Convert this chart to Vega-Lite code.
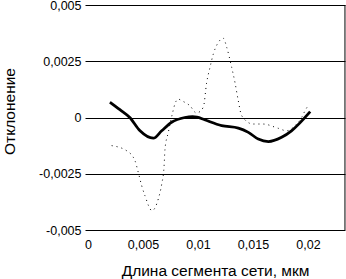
{
  "$schema": "https://vega.github.io/schema/vega-lite/v6.json",
  "width": 260,
  "height": 225,
  "autosize": "none",
  "padding": {"left": 85, "top": 5, "right": 1, "bottom": 49},
  "background": "white",
  "config": {
    "view": {"stroke": null},
    "font": "Liberation Sans",
    "axis": {"labelFont": "Liberation Sans", "titleFont": "Liberation Sans", "labelColor": "black", "titleColor": "black", "labelFontSize": 12.5, "titleFontSize": 15.5, "titleFontWeight": "normal"}
  },
  "datasets": {
    "thick": [
      {"x": 0.0020, "y": 0.00068},
      {"x": 0.0029, "y": 0.00035},
      {"x": 0.0038, "y": 0.0},
      {"x": 0.00473, "y": -0.00059},
      {"x": 0.00594, "y": -0.00092},
      {"x": 0.0067, "y": -0.00059},
      {"x": 0.0076, "y": -0.00021},
      {"x": 0.0088, "y": 0.0},
      {"x": 0.0095, "y": 0.00004},
      {"x": 0.0099, "y": 0.00002},
      {"x": 0.0106, "y": -0.0001},
      {"x": 0.01215, "y": -0.00036},
      {"x": 0.01367, "y": -0.00047},
      {"x": 0.01458, "y": -0.00066},
      {"x": 0.01548, "y": -0.00096},
      {"x": 0.0164, "y": -0.00107},
      {"x": 0.0176, "y": -0.00088},
      {"x": 0.0185, "y": -0.00059},
      {"x": 0.0202, "y": 0.00026}
    ],
    "dotted": [
      {"x": 0.00215, "y": -0.00125},
      {"x": 0.00352, "y": -0.00148},
      {"x": 0.00427, "y": -0.00192},
      {"x": 0.00457, "y": -0.00244},
      {"x": 0.00488, "y": -0.00303},
      {"x": 0.00518, "y": -0.00348},
      {"x": 0.00582, "y": -0.00414},
      {"x": 0.00639, "y": -0.00362},
      {"x": 0.0067, "y": -0.00296},
      {"x": 0.00691, "y": -0.00221},
      {"x": 0.0070, "y": -0.0014},
      {"x": 0.0073, "y": -0.00066},
      {"x": 0.0077, "y": 0.00023},
      {"x": 0.0079, "y": 0.0006},
      {"x": 0.0082, "y": 0.00082},
      {"x": 0.0085, "y": 0.00075},
      {"x": 0.00927, "y": 0.00052},
      {"x": 0.00986, "y": 0.0002},
      {"x": 0.01048, "y": 0.00045},
      {"x": 0.01079, "y": 0.00156},
      {"x": 0.01109, "y": 0.00223},
      {"x": 0.01139, "y": 0.00282},
      {"x": 0.01185, "y": 0.00334},
      {"x": 0.0123, "y": 0.00352},
      {"x": 0.01261, "y": 0.00312},
      {"x": 0.01306, "y": 0.00223},
      {"x": 0.01336, "y": 0.00156},
      {"x": 0.01366, "y": 0.00075},
      {"x": 0.01397, "y": 0.00008},
      {"x": 0.0150, "y": -0.00029},
      {"x": 0.0159, "y": -0.00029},
      {"x": 0.0173, "y": -0.00048},
      {"x": 0.01806, "y": -0.00059},
      {"x": 0.01882, "y": -0.00036},
      {"x": 0.01943, "y": 0.00001},
      {"x": 0.01973, "y": 0.0003},
      {"x": 0.02005, "y": 0.00056}
    ],
    "border": [{"x": 0.02336}]
  },
  "layer": [
    {
      "data": {"name": "dotted"},
      "mark": {"type": "line", "color": "black", "strokeWidth": 1, "strokeDash": [1, 4], "interpolate": "monotone"},
      "encoding": {
        "x": {
          "field": "x", "type": "quantitative",
          "scale": {"domain": [-0.000273, 0.023364], "nice": false, "zero": false},
          "axis": {
            "title": "Длина сегмента сети, мкм",
            "values": [0, 0.005, 0.01, 0.015, 0.02],
            "labelExpr": "replace(toString(datum.value), '.', ',')",
            "grid": false, "domain": false, "ticks": false,
            "labelPadding": 8,
            "titleY": 45, "titleBaseline": "alphabetic"
          }
        },
        "y": {
          "field": "y", "type": "quantitative",
          "scale": {"domain": [-0.005, 0.005], "nice": false},
          "axis": {
            "title": "Отклонение",
            "values": [-0.005, -0.0025, 0, 0.0025, 0.005],
            "labelExpr": "replace(toString(datum.value), '.', ',')",
            "grid": true, "gridColor": "black", "gridOpacity": 1, "gridWidth": 1,
            "domain": false, "ticks": false,
            "labelPadding": 4,
            "titleX": -76, "titleY": 106, "titleBaseline": "middle"
          }
        }
      }
    },
    {
      "data": {"name": "thick"},
      "mark": {"type": "line", "color": "black", "strokeWidth": 2.8, "interpolate": "monotone"},
      "encoding": {
        "x": {"field": "x", "type": "quantitative"},
        "y": {"field": "y", "type": "quantitative"}
      }
    },
    {
      "data": {"name": "border"},
      "mark": {"type": "rule", "color": "black", "strokeWidth": 1},
      "encoding": {
        "x": {"field": "x", "type": "quantitative"}
      }
    }
  ]
}
